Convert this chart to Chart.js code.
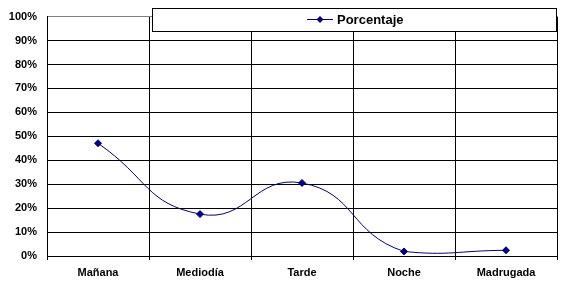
<!DOCTYPE html>
<html lang="es">
<head>
    <meta charset="UTF-8">
    <title>Porcentaje por franja horaria</title>
    <style>
        body {
            margin: 0;
            background-color: #ffffff;
        }
        .chart-container {
            width: 562px;
            height: 288px;
        }
    </style>
</head>
<body>
    <div class="chart-container">
        <canvas id="mainChart"></canvas>
    </div>

    <script src="https://cdn.jsdelivr.net/npm/chart.js"></script>
    <script>
        const categories = ["Mañana", "Mediodía", "Tarde", "Noche", "Madrugada"];
        const porcentaje = [47.1, 17.5, 30.5, 1.9, 2.4];
        const yTicks = [0, 10, 20, 30, 40, 50, 60, 70, 80, 90, 100];

        const navy = '#000080';
        const font = { family: 'Liberation Sans, Arial, sans-serif', size: 11, weight: 'bold' };

        // legend drawn as Excel-style box on top of the plot
        const legendBox = {
            id: 'legendBox',
            afterDraw(chart) {
                const ctx = chart.ctx;
                ctx.save();
                ctx.fillStyle = '#ffffff';
                ctx.fillRect(152, 8, 404, 23);
                ctx.strokeStyle = '#000000';
                ctx.lineWidth = 1;
                ctx.strokeRect(152.5, 8.5, 404, 23);

                ctx.strokeStyle = navy;
                ctx.beginPath();
                ctx.moveTo(307, 19.5);
                ctx.lineTo(333, 19.5);
                ctx.stroke();
                ctx.fillStyle = navy;
                ctx.beginPath();
                ctx.moveTo(320, 16);
                ctx.lineTo(323.5, 19.5);
                ctx.lineTo(320, 23);
                ctx.lineTo(316.5, 19.5);
                ctx.closePath();
                ctx.fill();

                ctx.fillStyle = '#000000';
                ctx.font = 'bold 13px Liberation Sans, Arial, sans-serif';
                ctx.textBaseline = 'middle';
                ctx.textAlign = 'left';
                ctx.fillText(chart.data.datasets[0].label, 337, 20);
                ctx.restore();
            }
        };

        const config = {
            type: 'line',
            data: {
                labels: categories,
                datasets: [{
                    label: 'Porcentaje',
                    data: porcentaje,
                    borderColor: navy,
                    backgroundColor: navy,
                    borderWidth: 1,
                    tension: 0.5,
                    pointStyle: 'rectRot',
                    pointRadius: 3.5,
                    pointHoverRadius: 3.5,
                    fill: false
                }]
            },
            options: {
                responsive: true,
                maintainAspectRatio: false,
                animation: false,
                layout: {
                    padding: { top: 16, right: 5, left: 0, bottom: 0 }
                },
                scales: {
                    x: {
                        offset: true,
                        grid: {
                            offset: true,
                            color: (c) => c.index === categories.length ? '#808080' : '#000000',
                            tickColor: '#000000',
                            tickLength: 4,
                            lineWidth: 1
                        },
                        border: { color: '#000000' },
                        ticks: {
                            color: '#000000',
                            font: font,
                            padding: 6,
                            maxRotation: 0
                        },
                        afterFit(scale) { scale.height = 32; }
                    },
                    y: {
                        min: 0,
                        max: 100,
                        afterBuildTicks(scale) {
                            scale.ticks = yTicks.map(v => ({ value: v }));
                        },
                        grid: {
                            color: (c) => c.tick && c.tick.value === 100 ? '#808080' : '#000000',
                            tickLength: 0,
                            lineWidth: 1
                        },
                        border: { color: '#000000' },
                        ticks: {
                            color: '#000000',
                            font: font,
                            padding: 10,
                            callback: (v) => v + '%'
                        },
                        afterFit(scale) { scale.width = 47; }
                    }
                },
                plugins: {
                    legend: { display: false },
                    tooltip: { enabled: false }
                }
            },
            plugins: [legendBox]
        };

        const ctx = document.getElementById('mainChart').getContext('2d');
        const chart = new Chart(ctx, config);
    </script>
</body>
</html>
